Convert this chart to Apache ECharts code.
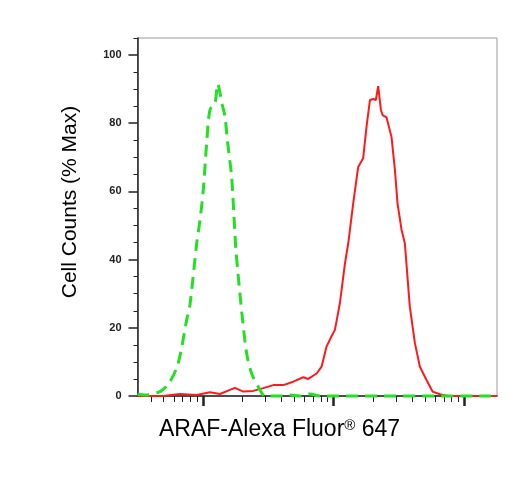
<!DOCTYPE html>
<html>
<head>
<meta charset="utf-8">
<script src="https://cdn.jsdelivr.net/npm/echarts@6/dist/echarts.min.js"></script>
<style>html,body{margin:0;padding:0;background:#fff}#c{width:523px;height:500px}</style>
</head>
<body>
<div id="c"></div>
<script>
// x values are log10 of the fluorescence intensity (decades)
var redX = [0.5, 0.596, 0.697, 0.774, 0.825, 0.953, 1.054, 1.131, 1.207, 1.245, 1.309, 1.385, 1.462, 1.538, 1.615, 1.691, 1.768, 1.806, 1.870, 1.908, 1.946, 1.985, 2.010, 2.048, 2.087, 2.112, 2.150, 2.188, 2.226, 2.252, 2.278, 2.303, 2.323, 2.341, 2.362, 2.375, 2.405, 2.443, 2.469, 2.489, 2.520, 2.545, 2.583, 2.622, 2.660, 2.711, 2.757, 2.813, 2.876, 3.25];
var redY = [0, 0, 0, 0.4, 0.6, 0.3, 1.1, 0.6, 1.8, 2.4, 1.3, 1.5, 2.3, 3.2, 3.2, 4.2, 5.5, 5.0, 6.6, 8.6, 14.5, 17.6, 19.4, 27.2, 38.9, 44.8, 56.5, 67.2, 69.7, 79.0, 86.8, 87.1, 86.8, 90.9, 83.9, 82.4, 81.7, 76.0, 66.3, 56.5, 48.7, 44.8, 26.2, 15.5, 8.6, 4.7, 1.3, 0.5, 0, 0];
var greenX = [0.5, 0.557, 0.672, 0.748, 0.812, 0.876, 0.901, 0.953, 0.978, 1.003, 1.029, 1.054, 1.093, 1.113, 1.148, 1.169, 1.190, 1.220, 1.238, 1.251, 1.271, 1.304, 1.335, 1.373, 1.437, 1.475, 1.589, 1.666, 1.742, 1.818, 1.895, 3.25];
var greenY = [0.5, 0.3, 1.3, 4.2, 9.7, 22.3, 26.7, 44.8, 51.6, 60.4, 74.1, 83.9, 86.0, 91.5, 85.5, 82.0, 74.1, 64.3, 52.6, 43.8, 35.0, 22.3, 12.5, 6.6, 1.8, 0, 0, 0.3, 0, 0.6, 0, 0];
var xMajorTicks = [1, 2, 3];
var xMinorMultipliers = [2, 3, 4, 5, 6, 7, 8, 9];
var xDecades = [0, 1, 2, 3];
var yMajorTicks = [0, 20, 40, 60, 80, 100];
var yMinorTicks = [5, 10, 15, 25, 30, 35, 45, 50, 55, 65, 70, 75, 85, 90, 95, 105];
var xMin = 0.5, xMax = 3.25, yMin = 0, yMax = 105;

function zip(a, b) { return a.map(function (v, i) { return [v, b[i]]; }); }
var xMinorTicks = [];
xDecades.forEach(function (k) {
  xMinorMultipliers.forEach(function (m) {
    var v = k + Math.log10(m);
    if (v > xMin && v < xMax) xMinorTicks.push(v);
  });
});

var chart = echarts.init(document.getElementById('c'), null, { renderer: 'canvas' });
var font = 'Liberation Sans, Arial, sans-serif';
chart.setOption({
  animation: false,
  grid: { left: 137.5, right: 26, top: 38, bottom: 104, show: true, borderColor: '#999', borderWidth: 1, backgroundColor: 'transparent' },
  xAxis: [{
    type: 'value', min: xMin, max: xMax, position: 'bottom',
    axisLine: { show: true, onZero: false, lineStyle: { color: '#222', width: 1.5 } },
    axisTick: { show: true, customValues: xMajorTicks, length: 10, lineStyle: { color: '#222', width: 2.5 } },
    axisLabel: { show: false },
    splitLine: { show: false }
  }, {
    type: 'value', min: xMin, max: xMax, position: 'bottom',
    axisLine: { show: false, onZero: false },
    axisTick: { show: true, customValues: xMinorTicks, length: 6, lineStyle: { color: '#222', width: 1 } },
    axisLabel: { show: false },
    splitLine: { show: false }
  }],
  yAxis: [{
    type: 'value', min: yMin, max: yMax, position: 'left',
    axisLine: { show: true, onZero: false, lineStyle: { color: '#222', width: 1.5 } },
    axisTick: { show: true, customValues: yMajorTicks, length: 9, lineStyle: { color: '#222', width: 1.5 } },
    axisLabel: { show: true, customValues: yMajorTicks, margin: 16, fontSize: 11, fontWeight: 'bold', color: '#222', fontFamily: font },
    splitLine: { show: false }
  }, {
    type: 'value', min: yMin, max: yMax, position: 'left',
    axisLine: { show: false, onZero: false },
    axisTick: { show: true, customValues: yMinorTicks, length: 4, lineStyle: { color: '#222', width: 1 } },
    axisLabel: { show: false },
    splitLine: { show: false }
  }],
  series: [{
    type: 'line', xAxisIndex: 0, yAxisIndex: 0, data: zip(redX, redY),
    showSymbol: false, clip: false,
    lineStyle: { color: '#ff1a1a', width: 2 }
  }, {
    type: 'line', xAxisIndex: 0, yAxisIndex: 0, data: zip(greenX, greenY),
    showSymbol: false, clip: false, smooth: 0.3,
    lineStyle: { color: '#22e022', width: 3, type: [12, 7] }
  }],
  graphic: [{
    type: 'text', x: 70, y: 202, rotation: Math.PI / 2,
    style: { text: 'Cell Counts (% Max)', fontSize: 21, fontFamily: font, fill: '#000', align: 'center', verticalAlign: 'middle' }
  }, {
    type: 'text', x: 159, y: 430,
    style: {
      text: '{a|ARAF-Alexa Fluor}{r|®}{a| 647}', fontFamily: font, fill: '#000', align: 'left', verticalAlign: 'middle',
      rich: {
        a: { fontSize: 23, fontFamily: font, fill: '#000' },
        r: { fontSize: 15, fontFamily: font, fill: '#000', verticalAlign: 'top', padding: [0, 0, 8, 0] }
      }
    }
  }]
});
</script>
</body>
</html>
